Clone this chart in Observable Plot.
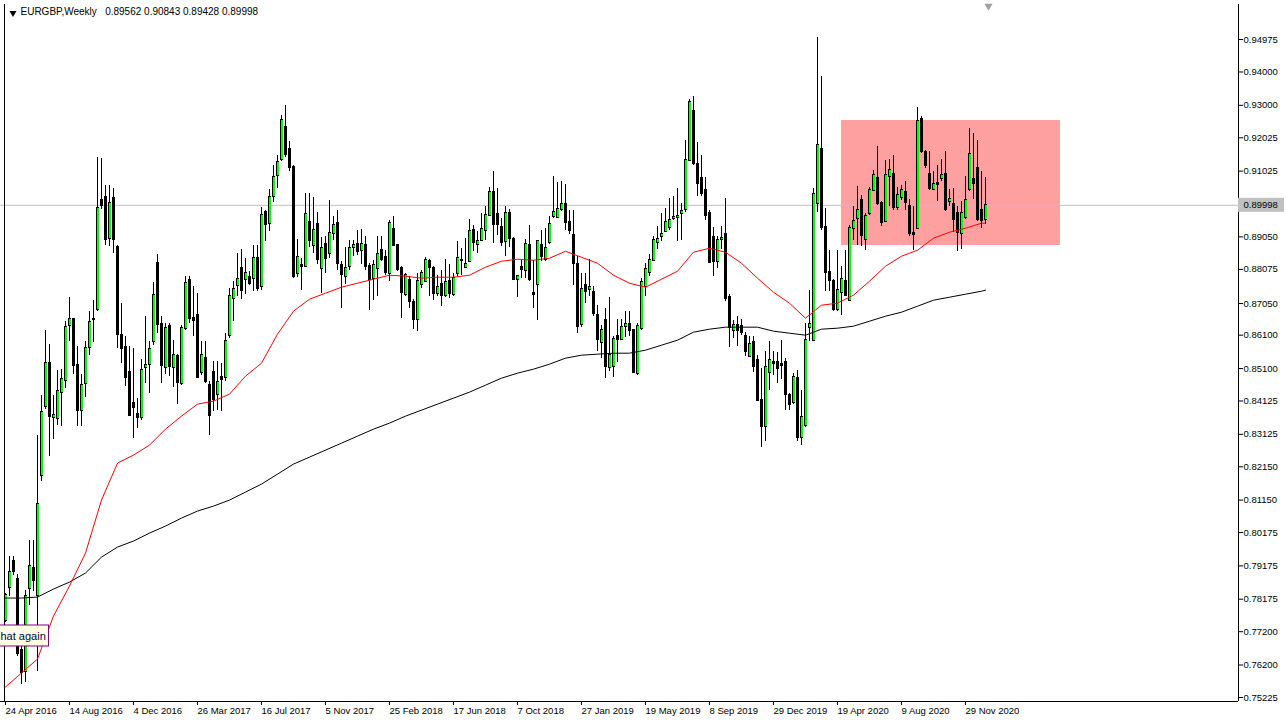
<!DOCTYPE html>
<html><head><meta charset="utf-8">
<script src="https://cdn.jsdelivr.net/npm/d3@7"></script>
<script src="https://cdn.jsdelivr.net/npm/@observablehq/plot@0.6"></script>
<style>
html,body{margin:0;padding:0;background:#fff;}
#chart{position:relative;width:1286px;height:724px;overflow:hidden;}
</style></head><body><div id="chart"></div>
<script>
// Weekly EURGBP candles, first bar = week of 24 Apr 2016
const firstWeek = "2016-04-24";
const open = [
0.7752,0.7851,0.7932,0.7878,0.7665,0.7599,0.7847,0.7911,0.7826,0.8188,
0.8393,0.8527,0.8362,0.8358,0.8435,0.8472,0.8638,0.8658,0.8521,0.8382,
0.8463,0.8573,0.8655,0.8687,0.9015,0.9025,0.8900,0.9023,0.8875,0.8610,
0.8575,0.8500,0.8405,0.8373,0.8360,0.8510,0.8520,0.8590,0.8828,0.8643,
0.8510,0.8637,0.8510,0.8547,0.8462,0.8630,0.8775,0.8663,0.8670,0.8495,
0.8542,0.8460,0.8500,0.8430,0.8485,0.8480,0.8608,0.8720,0.8758,0.8813,
0.8775,0.8785,0.8778,0.8842,0.8755,0.8980,0.8945,0.9025,0.9088,0.9135,
0.9235,0.9168,0.9115,0.8795,0.8820,0.8815,0.8950,0.8877,0.8943,0.8810,
0.8883,0.8853,0.8915,0.8947,0.8820,0.8785,0.8815,0.8873,0.8883,0.8863,
0.8880,0.8817,0.8780,0.8810,0.8865,0.8845,0.8795,0.8930,0.8880,0.8813,
0.8730,0.8775,0.8710,0.8655,0.8760,0.8770,0.8832,0.8813,0.8735,0.8765,
0.8727,0.8773,0.8730,0.8793,0.8837,0.8813,0.8830,0.8927,0.8882,0.8892,
0.8922,0.8967,0.9040,0.8973,0.8935,0.8890,0.8977,0.8900,0.8775,0.8815,
0.8803,0.8882,0.8738,0.8760,0.8880,0.8835,0.8887,0.8965,0.8963,0.8985,
0.9005,0.8950,0.8910,0.8823,0.8640,0.8760,0.8745,0.8740,0.8670,0.8587,
0.8655,0.8510,0.8515,0.8607,0.8597,0.8635,0.8645,0.8625,0.8493,0.8630,
0.8755,0.8797,0.8833,0.8887,0.8905,0.8920,0.8933,0.8960,0.8963,0.8973,
0.8987,0.9133,0.9283,0.9123,0.9083,0.9045,0.8977,0.8905,0.8830,0.8895,
0.8913,0.8725,0.8623,0.8640,0.8637,0.8607,0.8545,0.8590,0.8537,0.8415,
0.8333,0.8497,0.8530,0.8530,0.8525,0.8530,0.8430,0.8407,0.8480,0.8300,
0.8337,0.8633,0.8593,0.9005,0.9170,0.8935,0.8800,0.8773,0.8687,0.8737,
0.8773,0.8713,0.8930,0.8960,0.9015,0.8897,0.8975,0.9043,0.9083,0.9007,
0.8950,0.9085,0.9095,0.8993,0.9023,0.9040,0.8998,0.8917,0.8930,0.9260,
0.9160,0.9093,0.9047,0.9067,0.9080,0.9093,0.9010,0.9003,0.8977,0.8915,
0.8963,0.9045,0.9080,0.9113,0.8987,0.89562];
const high = [
0.7836,0.7947,0.7947,0.7893,0.7680,0.7845,0.7995,0.7995,0.8309,0.8430,
0.8624,0.8582,0.8430,0.8503,0.8508,0.8650,0.8724,0.8661,0.8577,0.8493,
0.8592,0.8680,0.8715,0.9144,0.9141,0.9060,0.9060,0.9050,0.8880,0.8705,
0.8605,0.8575,0.8570,0.8420,0.8537,0.8665,0.8590,0.8767,0.8852,0.8665,
0.8645,0.8645,0.8593,0.8553,0.8640,0.8785,0.8785,0.8755,0.8736,0.8590,
0.8590,0.8470,0.8532,0.8530,0.8525,0.8615,0.8750,0.8770,0.8855,0.8868,
0.8840,0.8802,0.8880,0.8880,0.8993,0.8985,0.9048,0.9118,0.9148,0.9270,
0.9300,0.9190,0.9120,0.8897,0.8840,0.9035,0.9035,0.9023,0.8977,0.8903,
0.8907,0.9015,0.8965,0.8983,0.8830,0.8873,0.8893,0.8895,0.8925,0.8927,
0.8905,0.8825,0.8835,0.8907,0.8905,0.8865,0.8955,0.8967,0.8883,0.8817,
0.8795,0.8785,0.8717,0.8795,0.8805,0.8843,0.8837,0.8817,0.8790,0.8803,
0.8837,0.8823,0.8795,0.8890,0.8870,0.8900,0.8957,0.8940,0.8920,0.8975,
0.8997,0.9053,0.9100,0.9050,0.8960,0.8997,0.8987,0.8903,0.8790,0.8835,
0.8897,0.8939,0.8835,0.8895,0.8925,0.8930,0.8967,0.9087,0.9067,0.9070,
0.9063,0.8985,0.8985,0.8845,0.8795,0.8795,0.8837,0.8755,0.8700,0.8640,
0.8690,0.8723,0.8605,0.8657,0.8657,0.8680,0.8680,0.8627,0.8645,0.8780,
0.8825,0.8852,0.8905,0.8937,0.8975,0.8990,0.9020,0.9025,0.9050,0.9005,
0.9193,0.9317,0.9327,0.9187,0.9150,0.9083,0.8983,0.8933,0.8905,0.8935,
0.9020,0.8733,0.8655,0.8667,0.8657,0.8617,0.8605,0.8605,0.8550,0.8510,
0.8560,0.8590,0.8560,0.8557,0.8595,0.8540,0.8435,0.8495,0.8505,0.8445,
0.8645,0.8745,0.9050,0.9503,0.9387,0.8990,0.8865,0.8777,0.8863,0.8815,
0.8865,0.8940,0.8995,0.9055,0.9030,0.8975,0.9053,0.9105,0.9177,0.9010,
0.9135,0.9137,0.9150,0.9053,0.9060,0.9070,0.9017,0.8995,0.9293,0.9267,
0.9165,0.9160,0.9100,0.9120,0.9137,0.9160,0.9047,0.9050,0.8995,0.9010,
0.9087,0.9230,0.9215,0.9195,0.9100,0.90843];
const low = [
0.7749,0.7827,0.7890,0.7647,0.7563,0.7569,0.7800,0.7842,0.7600,0.8172,
0.8388,0.8246,0.8298,0.8340,0.8335,0.8451,0.8592,0.8493,0.8335,0.8335,
0.8424,0.8550,0.8587,0.8680,0.8988,0.8880,0.8875,0.8855,0.8570,0.8525,
0.8455,0.8365,0.8300,0.8330,0.8355,0.8465,0.8435,0.8580,0.8615,0.8465,
0.8493,0.8485,0.8453,0.8402,0.8460,0.8625,0.8645,0.8605,0.8480,0.8490,
0.8465,0.8310,0.8380,0.8385,0.8382,0.8470,0.8600,0.8650,0.8725,0.8718,
0.8732,0.8760,0.8740,0.8740,0.8745,0.8890,0.8920,0.9008,0.9050,0.9130,
0.9142,0.9100,0.8780,0.8783,0.8745,0.8813,0.8873,0.8855,0.8823,0.8735,
0.8795,0.8840,0.8895,0.8805,0.8690,0.8763,0.8803,0.8845,0.8850,0.8823,
0.8805,0.8685,0.8715,0.8727,0.8830,0.8790,0.8770,0.8875,0.8800,0.8660,
0.8725,0.8690,0.8627,0.8620,0.8750,0.8767,0.8727,0.8713,0.8725,0.8695,
0.8723,0.8720,0.8725,0.8785,0.8790,0.8810,0.8827,0.8860,0.8855,0.8890,
0.8895,0.8965,0.8885,0.8910,0.8877,0.8845,0.8873,0.8775,0.8723,0.8780,
0.8780,0.8770,0.8690,0.8655,0.8830,0.8830,0.8883,0.8960,0.8960,0.8980,
0.8925,0.8913,0.8760,0.8615,0.8633,0.8705,0.8725,0.8665,0.8560,0.8540,
0.8480,0.8500,0.8483,0.8527,0.8593,0.8603,0.8607,0.8495,0.8490,0.8625,
0.8725,0.8785,0.8830,0.8867,0.8890,0.8917,0.8925,0.8955,0.8890,0.8895,
0.8977,0.9130,0.9120,0.9027,0.9027,0.8955,0.8825,0.8785,0.8810,0.8867,
0.8710,0.8573,0.8600,0.8575,0.8610,0.8545,0.8542,0.8497,0.8410,0.8273,
0.8290,0.8445,0.8490,0.8465,0.8477,0.8383,0.8385,0.8403,0.8290,0.8280,
0.8333,0.8590,0.8590,0.8977,0.8925,0.8740,0.8740,0.8680,0.8680,0.8670,
0.8725,0.8710,0.8893,0.8880,0.8877,0.8863,0.8970,0.9040,0.9000,0.8937,
0.8947,0.8997,0.8985,0.8983,0.9015,0.8985,0.8905,0.8863,0.8927,0.9155,
0.9110,0.9045,0.9043,0.9010,0.9070,0.8980,0.8995,0.8917,0.8860,0.8867,
0.8957,0.9040,0.9017,0.8950,0.8930,0.89428];
const close = [
0.7830,0.7899,0.7899,0.7653,0.7596,0.7827,0.7918,0.7872,0.8104,0.8379,
0.8527,0.8365,0.8370,0.8442,0.8477,0.8635,0.8658,0.8519,0.8382,0.8461,
0.8573,0.8651,0.8658,0.8992,0.8997,0.8895,0.9008,0.8897,0.8610,0.8570,
0.8480,0.8367,0.8392,0.8362,0.8505,0.8520,0.8568,0.8732,0.8642,0.8518,
0.8633,0.8515,0.8550,0.8467,0.8633,0.8768,0.8660,0.8653,0.8482,0.8552,
0.8468,0.8368,0.8415,0.8470,0.8475,0.8592,0.8727,0.8748,0.8780,0.8742,
0.8798,0.8765,0.8842,0.8750,0.8972,0.8942,0.9025,0.9085,0.9130,0.9255,
0.9150,0.9111,0.8785,0.8845,0.8815,0.8975,0.8893,0.8927,0.8837,0.8873,
0.8838,0.8917,0.8940,0.8823,0.8790,0.8813,0.8873,0.8880,0.8860,0.8883,
0.8815,0.8777,0.8820,0.8855,0.8835,0.8797,0.8947,0.8877,0.8805,0.8737,
0.8790,0.8710,0.8655,0.8773,0.8797,0.8837,0.8813,0.8735,0.8755,0.8727,
0.8770,0.8735,0.8783,0.8843,0.8832,0.8825,0.8922,0.8887,0.8892,0.8930,
0.8970,0.9040,0.8940,0.8940,0.8887,0.8977,0.8900,0.8777,0.8787,0.8807,
0.8883,0.8777,0.8732,0.8893,0.8845,0.8873,0.8943,0.8980,0.8990,0.9005,
0.8947,0.8923,0.8823,0.8635,0.8750,0.8740,0.8755,0.8673,0.8597,0.8625,
0.8513,0.8550,0.8600,0.8597,0.8635,0.8645,0.8623,0.8497,0.8637,0.8770,
0.8810,0.8837,0.8895,0.8900,0.8915,0.8950,0.8955,0.8965,0.8969,0.8982,
0.9135,0.9310,0.9125,0.9065,0.9033,0.8967,0.8827,0.8830,0.8897,0.8902,
0.8720,0.8633,0.8640,0.8623,0.8617,0.8560,0.8583,0.8513,0.8413,0.8333,
0.8513,0.8535,0.8523,0.8507,0.8517,0.8430,0.8400,0.8485,0.8300,0.8363,
0.8595,0.8643,0.9035,0.9180,0.8933,0.8797,0.8773,0.8687,0.8745,0.8780,
0.8727,0.8933,0.8953,0.8987,0.8907,0.8967,0.9047,0.9090,0.9003,0.8947,
0.9090,0.9105,0.8993,0.9030,0.9047,0.9007,0.8913,0.8910,0.9253,0.9160,
0.9117,0.9050,0.9063,0.9060,0.9090,0.8985,0.9020,0.8957,0.8917,0.8977,
0.9017,0.9153,0.9065,0.8955,0.8953,0.89998];

// Moving averages read every 4 weeks (last point = last bar)
const redMA = [0.7554,0.7596,0.7638,0.7767,0.7857,0.7956,0.8115,0.8226,0.8250,0.8280,
0.8328,0.8367,0.8403,0.8412,0.8433,0.8487,0.8526,0.8613,0.8682,0.8718,
0.8736,0.8754,0.8766,0.8778,0.8790,0.8787,0.8781,0.8784,0.8784,0.8790,
0.8814,0.8832,0.8838,0.8835,0.8841,0.8862,0.8844,0.8826,0.8790,0.8766,
0.8754,0.8778,0.8802,0.8859,0.8871,0.8859,0.8826,0.8781,0.8739,0.8706,
0.8661,0.8700,0.8706,0.8730,0.8772,0.8817,0.8847,0.8865,0.8901,0.8919,
0.8931,0.8946,0.8946];
const blackMA = [0.7821,0.7821,0.7824,0.7848,0.7869,0.7896,0.7944,0.7974,0.7992,0.8016,
0.8037,0.8061,0.8082,0.8097,0.8115,0.8139,0.8163,0.8193,0.8223,0.8244,
0.8265,0.8286,0.8307,0.8328,0.8346,0.8367,0.8385,0.8403,0.8421,0.8439,
0.8460,0.8481,0.8496,0.8508,0.8523,0.8541,0.8550,0.8553,0.8556,0.8556,
0.8565,0.8580,0.8595,0.8619,0.8628,0.8634,0.8634,0.8634,0.8622,0.8616,
0.8610,0.8628,0.8631,0.8637,0.8652,0.8667,0.8679,0.8697,0.8715,0.8724,
0.8733,0.8742,0.8745];

const yTicks = [0.94975,0.94000,0.93000,0.92025,0.91025,0.89050,0.88075,0.87050,0.86100,0.85100,
0.84125,0.83125,0.82150,0.81150,0.80175,0.79175,0.78175,0.77200,0.76200,0.75225];
const xTickWeeks = [0,16,32,48,64,80,96,112,128,144,160,176,192,208,224,240];
const titleText = "EURGBP,Weekly\u00a0\u00a0 0.89562 0.90843 0.89428 0.89998";
const lastPrice = 0.89998;
const zone = {w1: 209, w2: 263.75, p1: 0.88792, p2: 0.92544};
const noteText = "hat again";

// ---------- build ----------
const WEEK = 7 * 864e5;
const t0 = Date.parse(firstWeek + "T00:00:00Z");
const dateOf = w => new Date(t0 + w * WEEK);
const bars = open.map((o, i) => ({i, date: dateOf(i), open: o, high: high[i], low: low[i], close: close[i]}));
const bulls = bars.filter(d => d.close >= d.open);
const maWeeks = d3.range(0, 245, 4).concat([245]);
const red = redMA.map((v, k) => ({date: dateOf(maWeeks[k]), v}));
const blk = blackMA.map((v, k) => ({date: dateOf(maWeeks[k]), v}));
const months = ["Jan","Feb","Mar","Apr","May","Jun","Jul","Aug","Sep","Oct","Nov","Dec"];
const fmtDate = d => `${d.getUTCDate()} ${months[d.getUTCMonth()]} ${d.getUTCFullYear()}`;
const GREEN = "#00ff00";
const FONT = "'Liberation Sans', Arial, sans-serif";
const yDom = [0.751049, 0.960255];
const pxPerUnit = 697 / (yDom[1] - yDom[0]);
const xDom = [dateOf(-1.25), dateOf(308.25)];
const crisp = {shapeRendering: "crispEdges"};

const chart = Plot.plot({
  width: 1286, height: 724,
  marginLeft: 0, marginRight: 48, marginTop: 4, marginBottom: 23,
  style: {fontFamily: FONT, fontSize: "9.5px", background: "white", color: "black", overflow: "visible"},
  x: {type: "utc", domain: xDom},
  y: {domain: yDom},
  marks: [
    // zone rectangle
    Plot.rect([zone], {x1: d => dateOf(d.w1), x2: d => dateOf(d.w2), y1: "p1", y2: "p2", fill: "#ffa0a0"}),
    // bid line
    Plot.ruleY([lastPrice], {stroke: "#c0c0c0"}),
    // left vertical line
    Plot.ruleX([dateOf(-0.25)], {stroke: "black"}),
    // wicks (1px)
    Plot.rect(bars, {x1: d => dateOf(d.i), x2: d => dateOf(d.i + 0.25), y1: "low", y2: "high", fill: "black", ...crisp}),
    // bodies: black outline, green core for rising weeks
    Plot.rect(bars, {x1: d => dateOf(d.i - 0.25), x2: d => dateOf(d.i + 0.5), y1: "open", y2: "close", fill: "black", insetTop: -0.5, insetBottom: -0.5, ...crisp}),
    Plot.rect(bulls, {x1: d => dateOf(d.i), x2: d => dateOf(d.i + 0.5), y1: "open", y2: "close", fill: GREEN, insetTop: 0.5, insetBottom: 0.5, ...crisp}),
    // moving averages
    Plot.line(blk, {x: "date", y: "v", stroke: "black", strokeWidth: 1}),
    Plot.line(red, {x: "date", y: "v", stroke: "#ff0000", strokeWidth: 1}),
    // frame: right and bottom
    Plot.ruleX([xDom[1]], {stroke: "black"}),
    Plot.ruleY([yDom[0]], {stroke: "black"}),
    // axes
    Plot.axisY(yTicks, {anchor: "right", tickSize: 4, tickPadding: 1, tickFormat: d => d.toFixed(5), fontSize: 9.5, label: null}),
    Plot.axisX(xTickWeeks.map(dateOf), {anchor: "bottom", tickSize: 4, tickPadding: 2, tickFormat: fmtDate, textAnchor: "start", fontSize: 9.5, label: null}),
    // last price tag
    Plot.rect([lastPrice], {x1: xDom[1], x2: dateOf(308.25 + 46 / 4), y1: d => d - 7 / pxPerUnit, y2: d => d + 7 / pxPerUnit, fill: "#c0c0c0"}),
    Plot.text([lastPrice], {y: d => d, frameAnchor: "right", dx: 5, textAnchor: "start", text: d => d.toFixed(5), fill: "black", fontSize: 9.5}),
    // chart shift marker
    Plot.dot([dateOf(245.75)], {x: d => d, frameAnchor: "top", dy: 1.5, symbol: "triangle", rotate: 180, r: 3, fill: "#a0a0a0", stroke: "none"}),
    // title
    Plot.dot([0], {frameAnchor: "top-left", dx: 12.5, dy: 8.5, symbol: "triangle", rotate: 180, r: 2.6, fill: "black", stroke: "none"}),
    Plot.text([titleText], {frameAnchor: "top-left", dx: 20, dy: 3.5, textAnchor: "start", lineAnchor: "top", fontSize: 10, fill: "black"}),
    // note label (left part cut by the window edge)
    Plot.rect([noteText], {x1: dateOf(-3), x2: dateOf(10.875), y1: 0.76756, y2: 0.77386, fill: "#ffffe1", stroke: "#800080"}),
    Plot.text([noteText], {x: dateOf(-1.25), y: 0.77056, text: d => d, textAnchor: "start", fontSize: 11, fill: "#000050"})
  ]
});
document.getElementById("chart").appendChild(chart);
</script></body></html>
